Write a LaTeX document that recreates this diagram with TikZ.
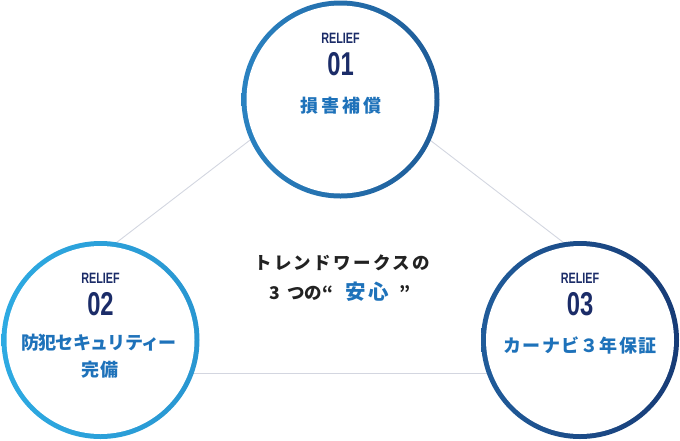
\documentclass[tikz,border=0pt]{standalone}
\usepackage{fontspec}
\newfontfamily\jpfont{Noto Sans CJK JP}
\newfontfamily\condfont{Liberation Sans}[FakeStretch=0.72]
\definecolor{navy}{HTML}{1B2C68}
\definecolor{jpblue}{HTML}{1E72BA}
\definecolor{linegray}{HTML}{D3D6E0}
\definecolor{aL}{HTML}{2A82C1}
\definecolor{aR}{HTML}{1E5B97}
\definecolor{bL}{HTML}{2DAAE2}
\definecolor{bR}{HTML}{2996D1}
\definecolor{cL}{HTML}{205C9A}
\definecolor{cR}{HTML}{173B76}
\definecolor{txtblack}{HTML}{222222}
\tikzset{
  ring/.style={circle, minimum size=198pt, inner sep=0pt},
  hole/.style={circle, fill=white, minimum size=188pt, inner sep=0pt},
  relief/.style={inner sep=0pt, text=navy, font=\condfont\bfseries\fontsize{15}{15}\selectfont},
  num/.style={inner sep=0pt, text=navy, font=\condfont\bfseries\fontsize{33}{33}\selectfont},
  jptxt/.style={inner sep=0pt, text=jpblue, font=\jpfont\bfseries\fontsize{18}{18}\selectfont},
  centertxt/.style={inner sep=0pt, text=txtblack, font=\jpfont\bfseries\fontsize{17.5}{17.5}\selectfont},
  link/.style={draw=linegray, line width=0.9pt},
}
\begin{document}
\begin{tikzpicture}[x=1pt,y=-1pt]
\useasboundingbox (0,0) rectangle (680,440);
% connector end points (inside the circles, hidden by them)
\coordinate (apex) at (340,71);
\coordinate (lend) at (100,255.2);
\coordinate (rend) at (580,255.2);
\coordinate (bl) at (100,373.3);
\coordinate (br) at (580,373.3);
\draw[link] (apex) -- (lend);
\draw[link] (apex) -- (rend);
\draw[link] (bl) -- (br);
% rings
\node[ring, left color=aL, right color=aR] (c1) at (340.5,99.5) {};
\node[hole] (h1) at (c1) {};
\node[ring, left color=bL, right color=bR] (c2) at (100.5,340) {};
\node[hole] (h2) at (c2) {};
\node[ring, left color=cL, right color=cR] (c3) at (580,340) {};
\node[hole] (h3) at (c3) {};
% circle 1
\node[relief] (r1) at (340.5,38) {RELIEF};
\node[num] (n1) at (340.5,64.5) {01};
\node[jptxt] (t1) at (341,106) {\addfontfeature{LetterSpace=18}損害補償};
% circle 2
\node[relief] (r2) at (100.5,278) {RELIEF};
\node[num] (n2) at (100.5,304.5) {02};
\node[jptxt] (t2) at (99,343) {\addfontfeature{LetterSpace=-4}防犯セキュリティー};
\node[jptxt] (t2b) at (100,370) {\addfontfeature{LetterSpace=5}完備};
% circle 3
\node[relief] (r3) at (580,278) {RELIEF};
\node[num] (n3) at (580,304.5) {03};
\node[jptxt] (t3) at (580,345) {\addfontfeature{LetterSpace=7}カーナビ３年保証};
% center
\node[centertxt] (m1) at (342,263) {\addfontfeature{LetterSpace=13}トレンドワークスの};
\node[centertxt] (m2) at (340,292) {3\hspace{7pt}つの“\hspace{12pt}{\color{jpblue}\fontsize{20.5}{20.5}\selectfont\addfontfeature{LetterSpace=15}安心}\hspace{10pt}”};
\end{tikzpicture}
\end{document}
